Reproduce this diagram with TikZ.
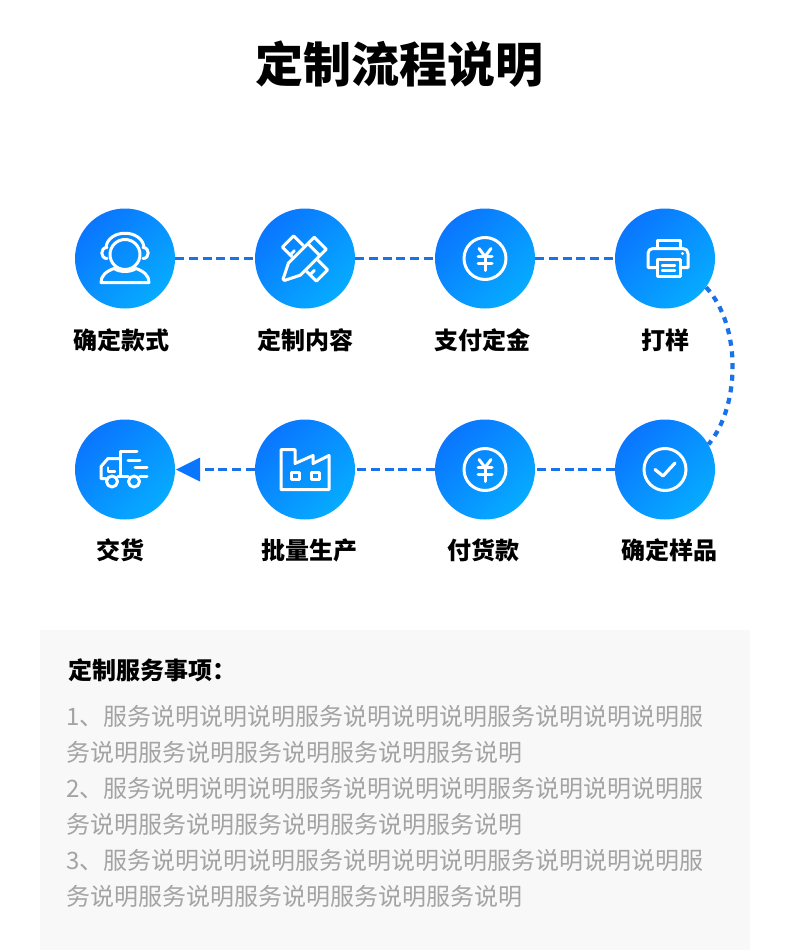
\documentclass[tikz,border=0pt]{standalone}
\usepackage{fontspec}
\setmainfont{Noto Sans CJK SC}
\usetikzlibrary{calc}
\definecolor{dashblue}{HTML}{1A72E8}
\definecolor{gradA}{HTML}{0A76FF}
\definecolor{gradB}{HTML}{06ABFF}
\definecolor{panelgray}{HTML}{F8F8F8}
\definecolor{bodygray}{HTML}{A3A3A3}
\tikzset{
  stepcircle/.style={circle,minimum size=100pt,inner sep=0pt,top color=gradA,bottom color=gradB,shading angle=45},
  steplabel/.style={font=\fontsize{24}{24}\selectfont\bfseries,black,anchor=center,inner sep=0pt},
  dashlink/.style={dashblue,line width=3.8pt,dash pattern=on 9pt off 4.7pt},
  dotlink/.style={dashblue,line width=4.2pt,dash pattern=on 6pt off 5.7pt},
  icon/.style={white,line width=3pt,line join=round,line cap=round},
  bodyline/.style={font=\fontsize{24}{24}\selectfont,bodygray,anchor=west,inner sep=0pt},
}
\begin{document}
\begin{tikzpicture}[x=1pt,y=-1pt]
\useasboundingbox (0,0) rectangle (790,950);
\fill[white] (0,0) rectangle (790,950);
\node[font=\fontsize{48}{48}\selectfont\bfseries,inner sep=0pt] (title) at (399.5,64) {定制流程说明};

\node[stepcircle] (s1) at (125,258.5) {};
\node[stepcircle] (s2) at (305,258.5) {};
\node[stepcircle] (s3) at (485,258.5) {};
\node[stepcircle] (s4) at (665,258.5) {};
\node[stepcircle] (s5) at (665,469.5) {};
\node[stepcircle] (s6) at (485,469.5) {};
\node[stepcircle] (s7) at (305,469.5) {};
\node[stepcircle] (s8) at (125,469.5) {};

\node[steplabel] (l1) at (121,340) {确定款式};
\node[steplabel] (l2) at (305,340) {定制内容};
\node[steplabel] (l3) at (482,340) {支付定金};
\node[steplabel] (l4) at (665,340) {打样};
\node[steplabel] (l5) at (669,550) {确定样品};
\node[steplabel] (l6) at (483.5,550) {付货款};
\node[steplabel] (l7) at (309,550) {批量生产};
\node[steplabel] (l8) at (120,550) {交货};

% connectors
\draw[dashlink] (s1.east) -- (s2.west);
\draw[dashlink] (s2.east) -- (s3.west);
\draw[dashlink] (s3.east) -- (s4.west);
\draw[dotlink] (s4.-35) .. controls (741,325) and (741,405) .. (s5.30);
\draw[dashlink] (s5.west) -- (s6.east);
\draw[dashlink] (s6.west) -- (s7.east);
\draw[dashlink] (s7.west) -- (199,469.5);
\fill[gradA] (176,469.5) -- (200,457.5) -- (200,481.5) -- cycle;

% icon 1: headset person
\begin{scope}[shift={(125,258.5)}]
 \draw[icon] (0,-4) circle (15);
 \draw[icon] (-19,-11) .. controls (-17,-30) and (17,-30) .. (19,-11);
 \draw[icon] (-18,-11) .. controls (-25,-11) and (-25,0) .. (-18,0);
 \draw[icon] (18,-11) .. controls (25,-11) and (25,0) .. (18,0);
 \draw[icon] (-24,24) .. controls (-24,17) and (-19,13) .. (-11,10) .. controls (-5,14) and (5,14) .. (11,10) .. controls (19,13) and (24,17) .. (24,24) -- cycle;
\end{scope}

% icon 2: crossed ruler and pencil
\begin{scope}[shift={(305,258.5)}]
 \begin{scope}[rotate=45]
  \draw[icon] (-8,-24) rectangle (8,24);
  \draw[icon] (-8,-13) -- (-2,-13) (-8,15) -- (-2,15);
 \end{scope}
 \begin{scope}[rotate=-45]
  \fill[gradA!50!gradB] (-10,-22) -- (10,-22) -- (10,15) -- (0,32) -- (-10,15) -- cycle;
  \draw[icon] (-8.5,-21.5) -- (8.5,-21.5) -- (8.5,15) -- (1,30) -- (-1,30) -- (-8.5,15) -- cycle;
  \draw[icon] (-8.5,-12.5) -- (8.5,-12.5);
 \end{scope}
\end{scope}

% icon 3 and 6: yen
\foreach \nm/\cy in {s3/258.5,s6/469.5}{
\begin{scope}[shift={(485,\cy)}]
 \draw[icon] (0,0) circle (21);
 \draw[icon] (-6,-10) -- (0,-2) -- (6,-10);
 \draw[icon] (-7,-2) -- (7,-2) (-7,5) -- (7,5) (0,-2) -- (0,12);
\end{scope}}

% icon 4: printer
\begin{scope}[shift={(665,258.5)}]
 \draw[icon] (-8,-10) -- (-8,-18) -- (15,-18) -- (15,-10);
 \draw[icon] (-8,9) -- (-17,9) -- (-17,-5) .. controls (-17,-8) and (-15,-10) .. (-12,-10) -- (18,-10) .. controls (21,-10) and (23,-8) .. (23,-5) -- (23,9) -- (15,9);
 \draw[icon] (-8,1) rectangle (15,18);
 \draw[icon,line width=2.4pt] (-3,7) -- (10,7) (-3,12) -- (10,12);
 \fill[white] (17.5,-5) circle (1.6);
\end{scope}

% icon 5: check
\begin{scope}[shift={(665,469.5)}]
 \draw[icon] (0,0) circle (21);
 \draw[icon,line width=3.2pt] (-10,0) -- (-2,6.5) -- (10,-6.5);
\end{scope}

% icon 7: factory
\begin{scope}[shift={(305,469.5)}]
 \draw[icon] (-24,20) -- (-24,-20) -- (-10,-20) -- (-10,-6) -- (8,-14) -- (8,-6) -- (24,-14) -- (24,20) -- cycle;
 \draw[icon] (-14,3) rectangle (-6,10);
 \draw[icon] (6,3) rectangle (14,10);
\end{scope}

% icon 8: truck
\begin{scope}[shift={(125,469.5)}]
 \draw[icon] (-19,9) -- (-24,9) -- (-24,-3) -- (-17,-11) -- (-5,-11);
 \draw[icon] (-5,7) -- (-5,-18) -- (12,-18);
 \draw[icon] (3,-9) -- (15,-9) (10,-2) -- (22,-2);
 \draw[icon,line width=2.4pt] (-17,-2) -- (-17,2) -- (-10,2);
 \draw[icon] (-7,7) -- (3,7) (15,7) -- (22,7);
 \draw[icon] (-13,12) circle (5.5);
 \draw[icon] (9,12) circle (5.5);
\end{scope}

% panel
\fill[panelgray] (40,630) rectangle (750,950);
\node[font=\fontsize{24}{24}\selectfont\bfseries,black,anchor=west,inner sep=0pt] (ph) at (68,670) {定制服务事项：};
\node[bodyline] (b1) at (66,716) {1、服务说明说明说明服务说明说明说明服务说明说明说明服};
\node[bodyline] (b2) at (66,752) {务说明服务说明服务说明服务说明服务说明};
\node[bodyline] (b3) at (66,788) {2、服务说明说明说明服务说明说明说明服务说明说明说明服};
\node[bodyline] (b4) at (66,824) {务说明服务说明服务说明服务说明服务说明};
\node[bodyline] (b5) at (66,860) {3、服务说明说明说明服务说明说明说明服务说明说明说明服};
\node[bodyline] (b6) at (66,896) {务说明服务说明服务说明服务说明服务说明};
\end{tikzpicture}
\end{document}
